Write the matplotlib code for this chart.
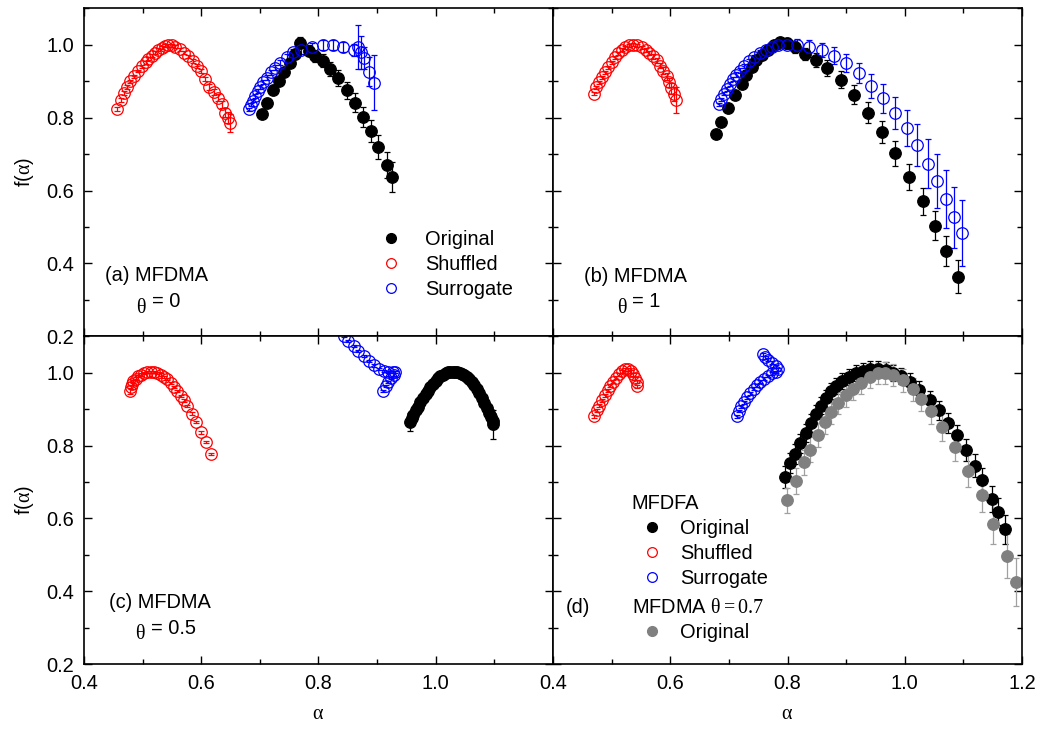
import numpy as np
import matplotlib.pyplot as plt
from matplotlib.lines import Line2D
from matplotlib.ticker import MultipleLocator

plt.rcParams['font.family'] = ['Liberation Sans', 'DejaVu Sans']
plt.rcParams['font.size'] = 14.4
plt.rcParams['mathtext.fontset'] = 'custom'
plt.rcParams['mathtext.rm'] = 'Liberation Serif'
plt.rcParams['mathtext.it'] = 'Liberation Serif'
plt.rcParams['mathtext.bf'] = 'Liberation Serif:bold'

# (a) MFDMA theta = 0
a_orig_x = [0.704, 0.712, 0.722, 0.732, 0.741, 0.752, 0.760, 0.769, 0.783, 0.794, 0.808, 0.820,
            0.834, 0.848, 0.862, 0.876, 0.889, 0.902, 0.917, 0.925]
a_orig_y = [0.810, 0.840, 0.875, 0.901, 0.926, 0.951, 0.974, 1.006, 0.983, 0.970, 0.956, 0.933,
            0.908, 0.875, 0.841, 0.802, 0.763, 0.719, 0.671, 0.637]
a_orig_e = [0.005, 0.006, 0.007, 0.008, 0.009, 0.010, 0.012, 0.015, 0.015, 0.016, 0.018, 0.020,
            0.022, 0.024, 0.026, 0.028, 0.030, 0.033, 0.036, 0.040]
a_shuf_x = [0.456, 0.463, 0.468, 0.473, 0.479, 0.486, 0.492, 0.499, 0.505, 0.510, 0.516, 0.521,
            0.527, 0.533, 0.538, 0.544, 0.550, 0.556, 0.563, 0.570, 0.578, 0.586, 0.593, 0.600,
            0.607, 0.614, 0.622, 0.629, 0.635, 0.640, 0.645, 0.649]
a_shuf_y = [0.824, 0.848, 0.867, 0.884, 0.900, 0.914, 0.928, 0.941, 0.952, 0.962, 0.970, 0.978,
            0.986, 0.992, 0.997, 0.999, 0.999, 0.995, 0.988, 0.978, 0.968, 0.955, 0.942, 0.928,
            0.906, 0.884, 0.870, 0.855, 0.837, 0.814, 0.800, 0.786]
a_shuf_e = [0.006, 0.005, 0.005, 0.005, 0.004, 0.004, 0.004, 0.004, 0.004, 0.004, 0.004, 0.004,
            0.004, 0.004, 0.004, 0.004, 0.004, 0.004, 0.004, 0.004, 0.005, 0.005, 0.005, 0.006,
            0.006, 0.007, 0.008, 0.009, 0.010, 0.012, 0.015, 0.025]
a_surr_x = [0.682, 0.685, 0.688, 0.692, 0.696, 0.700, 0.706, 0.712, 0.719, 0.726, 0.734, 0.746,
            0.757, 0.771, 0.789, 0.807, 0.824, 0.841, 0.860, 0.867, 0.873, 0.878, 0.887, 0.895]
a_surr_y = [0.823, 0.835, 0.847, 0.859, 0.873, 0.884, 0.898, 0.910, 0.924, 0.937, 0.951, 0.967,
            0.979, 0.985, 0.993, 0.999, 0.999, 0.993, 0.986, 0.993, 0.979, 0.963, 0.926, 0.896]
a_surr_e = [0.004, 0.004, 0.004, 0.005, 0.005, 0.005, 0.006, 0.006, 0.006, 0.007, 0.007, 0.008,
            0.009, 0.010, 0.012, 0.013, 0.013, 0.014, 0.016, 0.060, 0.045, 0.030, 0.040, 0.075]

# (b) MFDMA theta = 1
b_orig_x = [0.678, 0.687, 0.699, 0.711, 0.722, 0.730, 0.739, 0.747, 0.757, 0.767, 0.777, 0.787,
            0.799, 0.812, 0.829, 0.849, 0.867, 0.891, 0.913, 0.937, 0.961, 0.984, 1.008, 1.031,
            1.051, 1.071, 1.091]
b_orig_y = [0.755, 0.789, 0.826, 0.862, 0.892, 0.918, 0.938, 0.957, 0.973, 0.986, 0.998, 1.007,
            1.005, 0.993, 0.975, 0.959, 0.935, 0.904, 0.863, 0.814, 0.761, 0.702, 0.637, 0.570,
            0.504, 0.434, 0.364]
b_orig_e = [0.004, 0.004, 0.005, 0.005, 0.006, 0.006, 0.007, 0.008, 0.009, 0.010, 0.011, 0.012,
            0.013, 0.015, 0.017, 0.019, 0.022, 0.024, 0.026, 0.029, 0.031, 0.034, 0.036, 0.038,
            0.040, 0.042, 0.045]
b_shuf_x = [0.470, 0.474, 0.479, 0.484, 0.489, 0.494, 0.500, 0.506, 0.511, 0.517, 0.523, 0.530,
            0.537, 0.544, 0.551, 0.558, 0.564, 0.571, 0.577, 0.582, 0.588, 0.594, 0.598, 0.602,
            0.606, 0.610]
b_shuf_y = [0.866, 0.883, 0.897, 0.911, 0.924, 0.938, 0.952, 0.966, 0.977, 0.986, 0.993, 0.998,
            1.000, 0.998, 0.993, 0.986, 0.977, 0.968, 0.957, 0.943, 0.929, 0.913, 0.897, 0.881,
            0.865, 0.848]
b_shuf_e = [0.005, 0.004, 0.004, 0.004, 0.004, 0.004, 0.004, 0.004, 0.004, 0.004, 0.004, 0.004,
            0.004, 0.004, 0.004, 0.005, 0.005, 0.006, 0.007, 0.008, 0.009, 0.010, 0.012, 0.015,
            0.020, 0.035]
b_surr_x = [0.683, 0.687, 0.691, 0.696, 0.702, 0.707, 0.713, 0.719, 0.725, 0.734, 0.742, 0.753,
            0.763, 0.773, 0.784, 0.799, 0.816, 0.837, 0.858, 0.879, 0.900, 0.922, 0.943, 0.963,
            0.984, 1.003, 1.021, 1.039, 1.055, 1.070, 1.084, 1.097]
b_surr_y = [0.837, 0.851, 0.865, 0.879, 0.892, 0.906, 0.918, 0.929, 0.941, 0.955, 0.966, 0.977,
            0.986, 0.993, 0.998, 1.000, 1.000, 0.995, 0.986, 0.970, 0.949, 0.922, 0.888, 0.853,
            0.812, 0.771, 0.724, 0.674, 0.626, 0.577, 0.526, 0.483]
b_surr_e = [0.004, 0.004, 0.004, 0.005, 0.005, 0.005, 0.006, 0.006, 0.006, 0.007, 0.007, 0.008,
            0.008, 0.009, 0.010, 0.012, 0.015, 0.018, 0.020, 0.023, 0.025, 0.028, 0.033, 0.040,
            0.044, 0.050, 0.058, 0.067, 0.073, 0.080, 0.085, 0.090]

# (c) MFDMA theta = 0.5
c_orig_x = [0.956, 0.959, 0.962, 0.966, 0.970, 0.974, 0.979, 0.983, 0.987, 0.991, 0.996, 1.000,
            1.004, 1.008, 1.013, 1.017, 1.021, 1.025, 1.029, 1.033, 1.037, 1.041, 1.045, 1.049,
            1.053, 1.057, 1.062, 1.066, 1.070, 1.074, 1.079, 1.083, 1.087, 1.091, 1.094, 1.097,
            1.0985]
c_orig_y = [0.864, 0.875, 0.885, 0.897, 0.907, 0.919, 0.931, 0.941, 0.950, 0.960, 0.970, 0.978,
            0.985, 0.991, 0.995, 0.999, 1.001, 1.002, 1.002, 1.002, 1.001, 0.999, 0.996, 0.993,
            0.988, 0.982, 0.975, 0.966, 0.956, 0.944, 0.931, 0.917, 0.903, 0.889, 0.879, 0.867,
            0.859]
c_orig_e = [0.025, 0.014, 0.012, 0.010, 0.009, 0.008, 0.008, 0.007, 0.007, 0.007, 0.007, 0.007,
            0.007, 0.007, 0.007, 0.007, 0.007, 0.007, 0.007, 0.007, 0.007, 0.007, 0.007, 0.007,
            0.008, 0.008, 0.009, 0.009, 0.010, 0.011, 0.012, 0.013, 0.014, 0.016, 0.018, 0.022,
            0.040]
c_shuf_x = [0.4785, 0.4797, 0.4814, 0.4841, 0.4887, 0.4927, 0.4973, 0.5024, 0.508, 0.5138, 0.5195,
            0.525, 0.531, 0.5365, 0.542, 0.548, 0.5536, 0.559, 0.565, 0.5706, 0.576, 0.5838,
            0.591, 0.5997, 0.6077, 0.6167]
c_shuf_y = [0.951, 0.961, 0.970, 0.977, 0.984, 0.991, 0.995, 0.999, 1.001, 1.002, 1.001, 0.999,
            0.995, 0.989, 0.982, 0.972, 0.961, 0.949, 0.937, 0.924, 0.908, 0.888, 0.864, 0.836,
            0.809, 0.777]
c_shuf_e = [0.008, 0.005, 0.004, 0.004, 0.003, 0.003, 0.003, 0.003, 0.003, 0.003, 0.003, 0.003,
            0.003, 0.003, 0.003, 0.003, 0.003, 0.003, 0.003, 0.003, 0.003, 0.003, 0.003, 0.003,
            0.003, 0.003]
c_surr_x = [0.843, 0.851, 0.860, 0.868, 0.878, 0.887, 0.895, 0.904, 0.912, 0.919, 0.927, 0.931,
            0.928, 0.924, 0.919, 0.915, 0.910]
c_surr_y = [1.101, 1.087, 1.073, 1.060, 1.046, 1.032, 1.020, 1.011, 1.004, 1.002, 1.002, 1.003,
            0.995, 0.986, 0.974, 0.963, 0.949]
c_surr_e = [0.003, 0.003, 0.003, 0.003, 0.003, 0.003, 0.003, 0.003, 0.003, 0.003, 0.003, 0.003,
            0.003, 0.003, 0.003, 0.003, 0.003]

# (d) MFDFA + MFDMA theta = 0.7
d_orig_x = [0.7952, 0.8037, 0.8123, 0.822, 0.831, 0.8407, 0.849, 0.8577, 0.8663, 0.8748, 0.8833,
            0.8935, 0.9048, 0.916, 0.9286, 0.940, 0.9542, 0.9685, 0.9797, 0.994, 1.0082, 1.025,
            1.0423, 1.058, 1.0734, 1.0888, 1.1047, 1.1206, 1.132, 1.149, 1.1586, 1.1717]
d_orig_y = [0.713, 0.752, 0.777, 0.806, 0.835, 0.862, 0.887, 0.910, 0.930, 0.949, 0.964, 0.977,
            0.988, 0.998, 1.004, 1.009, 1.009, 1.007, 1.000, 0.990, 0.975, 0.952, 0.924, 0.897,
            0.862, 0.828, 0.789, 0.745, 0.705, 0.653, 0.619, 0.570]
d_orig_e = [0.030, 0.028, 0.027, 0.026, 0.025, 0.024, 0.024, 0.023, 0.023, 0.022, 0.022, 0.022,
            0.022, 0.022, 0.022, 0.022, 0.022, 0.022, 0.022, 0.022, 0.023, 0.024, 0.025, 0.026,
            0.027, 0.028, 0.030, 0.032, 0.034, 0.036, 0.038, 0.040]
d_shuf_x = [0.4704, 0.4744, 0.479, 0.484, 0.4886, 0.493, 0.498, 0.5027, 0.5073, 0.5124, 0.517,
            0.5227, 0.5283, 0.533, 0.5368, 0.5397, 0.5426, 0.5436]
d_shuf_y = [0.880, 0.897, 0.910, 0.924, 0.938, 0.952, 0.964, 0.975, 0.986, 0.996, 1.004, 1.010,
            1.009, 1.004, 0.996, 0.985, 0.975, 0.963]
d_shuf_e = [0.004, 0.004, 0.004, 0.004, 0.004, 0.004, 0.004, 0.004, 0.004, 0.004, 0.004, 0.004,
            0.004, 0.004, 0.004, 0.004, 0.004, 0.004]
d_surr_x = [0.7146, 0.7174, 0.7215, 0.726, 0.731, 0.7368, 0.7424, 0.748, 0.7538, 0.7595, 0.7668,
            0.7743, 0.781, 0.7838, 0.780, 0.7743, 0.7668, 0.761, 0.7583]
d_surr_y = [0.880, 0.895, 0.908, 0.919, 0.933, 0.944, 0.956, 0.966, 0.975, 0.984, 0.991, 0.998,
            1.002, 1.009, 1.018, 1.027, 1.036, 1.043, 1.051]
d_surr_e = [0.004, 0.004, 0.004, 0.004, 0.004, 0.004, 0.004, 0.004, 0.004, 0.004, 0.004, 0.004,
            0.004, 0.004, 0.004, 0.004, 0.004, 0.004, 0.004]
d_dma_x = [0.7992, 0.814, 0.8276, 0.839, 0.852, 0.8634, 0.8748, 0.886, 0.8991, 0.9116, 0.9259,
           0.940, 0.9542, 0.9656, 0.9797, 0.9968, 1.0138, 1.028, 1.0451, 1.0639, 1.0849, 1.1075,
           1.132, 1.1508, 1.1746, 1.1905]
d_dma_y = [0.650, 0.703, 0.754, 0.789, 0.830, 0.864, 0.892, 0.917, 0.938, 0.956, 0.972, 0.988,
           0.998, 0.999, 0.993, 0.979, 0.954, 0.929, 0.895, 0.852, 0.797, 0.731, 0.665, 0.584,
           0.497, 0.426]
d_dma_e = [0.035, 0.035, 0.035, 0.034, 0.033, 0.032, 0.032, 0.031, 0.031, 0.030, 0.030, 0.030,
           0.030, 0.030, 0.030, 0.031, 0.032, 0.034, 0.036, 0.038, 0.040, 0.044, 0.048, 0.055,
           0.060, 0.065]

RED = '#ff0000'
BLUE = '#0000ff'
GRAY = '#808080'


def draw(ax, x, y, err, color, filled=True, ecolor=None):
    ax.errorbar(x, y, yerr=err, fmt='o', ms=8.3,
                mfc=color if filled else 'none', mec=color, mew=0.9,
                ecolor=ecolor or color, elinewidth=0.9, capsize=2.2, capthick=0.9)


fig, axs = plt.subplots(2, 2, figsize=(10.38, 7.29), dpi=100)
fig.subplots_adjust(left=0.0809, right=0.9846, top=0.9886, bottom=0.0888,
                    wspace=0, hspace=0)
ax_a, ax_b = axs[0]
ax_c, ax_d = axs[1]

draw(ax_a, a_orig_x, a_orig_y, a_orig_e, 'k')
draw(ax_a, a_shuf_x, a_shuf_y, a_shuf_e, RED, filled=False)
draw(ax_a, a_surr_x, a_surr_y, a_surr_e, BLUE, filled=False)

draw(ax_b, b_orig_x, b_orig_y, b_orig_e, 'k')
draw(ax_b, b_shuf_x, b_shuf_y, b_shuf_e, RED, filled=False)
draw(ax_b, b_surr_x, b_surr_y, b_surr_e, BLUE, filled=False)

draw(ax_c, c_orig_x, c_orig_y, c_orig_e, 'k')
draw(ax_c, c_shuf_x, c_shuf_y, c_shuf_e, RED, filled=False)
draw(ax_c, c_surr_x, c_surr_y, c_surr_e, BLUE, filled=False)

draw(ax_d, d_orig_x, d_orig_y, d_orig_e, 'k')
draw(ax_d, d_shuf_x, d_shuf_y, d_shuf_e, RED, filled=False)
draw(ax_d, d_surr_x, d_surr_y, d_surr_e, BLUE, filled=False)
draw(ax_d, d_dma_x, d_dma_y, d_dma_e, GRAY, ecolor='#a0a0a0')

for ax in axs.flat:
    ax.set_xlim(0.4, 1.2)
    ax.set_ylim(0.2, 1.1)
    ax.set_xticks([0.4, 0.6, 0.8, 1.0, 1.2])
    ax.set_yticks([0.2, 0.4, 0.6, 0.8, 1.0])
    ax.xaxis.set_minor_locator(MultipleLocator(0.1))
    ax.yaxis.set_minor_locator(MultipleLocator(0.1))
    ax.tick_params(which='both', direction='in', top=True, right=True, width=1)
    ax.tick_params(which='major', length=6, pad=7)
    ax.tick_params(which='minor', length=3.5)
    for s in ax.spines.values():
        s.set_linewidth(1.2)

ax_a.tick_params(labelbottom=False)
ax_b.tick_params(labelbottom=False, labelleft=False)
ax_d.tick_params(labelleft=False)
ax_c.set_xticklabels(['0.4', '0.6', '0.8', '1.0', ''])

for ax in (ax_a, ax_c):
    ax.set_ylabel('f($\\alpha$)')
    ax.yaxis.set_label_coords(-0.102, 0.5)
for ax in (ax_c, ax_d):
    ax.set_xlabel('$\\alpha$')
    ax.xaxis.set_label_coords(0.5, -0.12)

# panel annotations
ax_a.text(0.045, 0.184, '(a) MFDMA', transform=ax_a.transAxes, va='center')
ax_a.text(0.111, 0.089, '$\\theta$', transform=ax_a.transAxes, va='center')
ax_a.text(0.145, 0.105, '= 0', transform=ax_a.transAxes, va='center')
ax_b.text(0.066, 0.181, '(b) MFDMA', transform=ax_b.transAxes, va='center')
ax_b.text(0.136, 0.089, '$\\theta$', transform=ax_b.transAxes, va='center')
ax_b.text(0.168, 0.105, '= 1', transform=ax_b.transAxes, va='center')
ax_c.text(0.053, 0.188, '(c) MFDMA', transform=ax_c.transAxes, va='center')
ax_c.text(0.109, 0.0945, '$\\theta$', transform=ax_c.transAxes, va='center')
ax_c.text(0.142, 0.108, '= 0.5', transform=ax_c.transAxes, va='center')
ax_d.text(0.028, 0.172, '(d)', transform=ax_d.transAxes, va='center')

# legends
h_orig = Line2D([], [], ls='none', marker='o', ms=7, color='k')
h_shuf = Line2D([], [], ls='none', marker='o', ms=7, mfc='none', mec=RED, mew=0.9)
h_surr = Line2D([], [], ls='none', marker='o', ms=7, mfc='none', mec=BLUE, mew=0.9)
h_dma = Line2D([], [], ls='none', marker='o', ms=7, color=GRAY)
labels = ['Original', 'Shuffled', 'Surrogate']

ax_a.legend([h_orig, h_shuf, h_surr], labels, loc='upper left', bbox_to_anchor=(0.613, 0.324),
            frameon=False, borderpad=0, borderaxespad=0, handlelength=2.0,
            handletextpad=0.67, labelspacing=0.3)

leg1 = ax_d.legend([h_orig, h_shuf, h_surr], labels, title='MFDFA', title_fontsize=14.4,
                   alignment='left', loc='upper left', bbox_to_anchor=(0.168, 0.519),
                   frameon=False, borderpad=0, borderaxespad=0, handlelength=2.0,
                   handletextpad=0.4, labelspacing=0.3)
ax_d.add_artist(leg1)
ax_d.legend([h_dma], ['Original'], title='MFDMA $\\theta = 0.7$', title_fontsize=14.4,
            alignment='left', loc='upper left', bbox_to_anchor=(0.168, 0.202),
            frameon=False, borderpad=0, borderaxespad=0, handlelength=2.0,
            handletextpad=0.4, labelspacing=0.3)

plt.savefig('out.png', dpi=100)
